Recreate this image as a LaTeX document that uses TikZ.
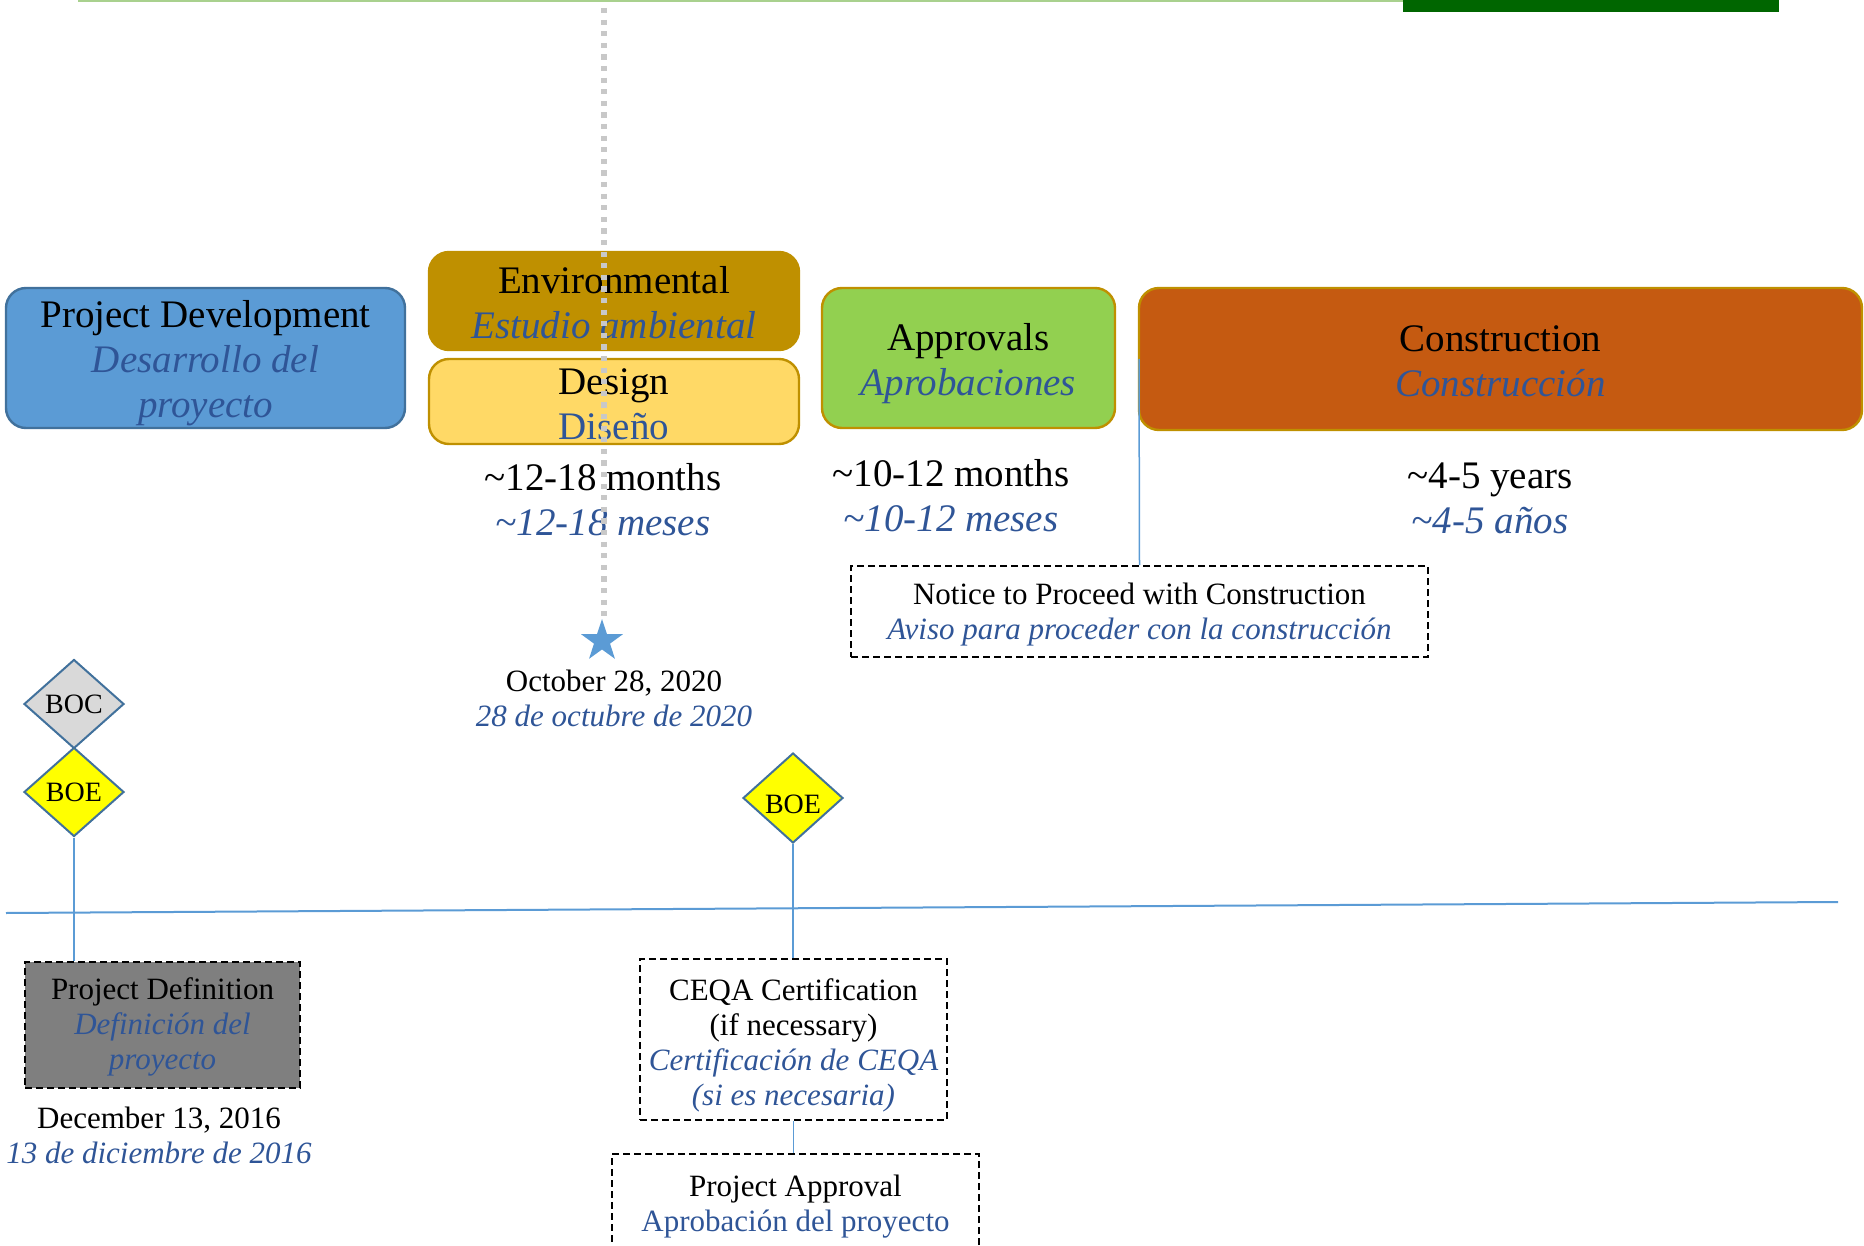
\documentclass[tikz,border=0pt]{standalone}
\usepackage{fontspec}
\setmainfont{Liberation Serif}
\usetikzlibrary{shapes.geometric}
\definecolor{pdblue}{HTML}{5B9BD5}
\definecolor{pdedge}{HTML}{41719C}
\definecolor{gold}{HTML}{BF9000}
\definecolor{designfill}{HTML}{FFD966}
\definecolor{apgreen}{HTML}{92D050}
\definecolor{constr}{HTML}{C55A11}
\definecolor{estxt}{HTML}{2F5597}
\definecolor{bocgray}{HTML}{D9D9D9}
\definecolor{pdgray}{HTML}{7F7F7F}
\definecolor{lgreen}{HTML}{A9D18E}
\definecolor{dgreen}{HTML}{006600}
\definecolor{dotgray}{HTML}{C8C8C8}
\definecolor{boeyellow}{HTML}{FFFF00}
\newcommand{\spn}[1]{{\color{estxt}\itshape #1}}
\newcommand{\tl}{\textasciitilde}
\newcommand{\dn}[1]{\rule{0pt}{#1}}
\begin{document}
\begin{tikzpicture}[x=0.5pt,y=-0.5pt,
  phase/.style={draw, rounded corners=10pt, line width=1.2pt, inner sep=0pt, align=center, font=\fontsize{19.5}{22.5}\selectfont},
  big/.style={align=center, inner sep=0pt, font=\fontsize{19.5}{22.5}\selectfont},
  small/.style={align=center, inner sep=0pt, font=\fontsize{15.5}{17.5}\selectfont},
  dbox/.style={draw=black, dash pattern=on 3.5pt off 2pt, line width=0.8pt, inner sep=0pt, align=center, font=\fontsize{15.5}{17.5}\selectfont},
  milestone/.style={diamond, draw=pdedge, line width=1pt, inner sep=0pt, minimum width=50pt, minimum height=44.5pt, font=\fontsize{14}{16}\selectfont},
  link/.style={draw=pdblue, line width=0.75pt}
]
\useasboundingbox (0,0) rectangle (1864,1246);

% top decoration
\coordinate (g1) at (78,1);
\coordinate (g2) at (1779,1);
\draw[lgreen, line width=1pt] (g1) -- (g2);
\fill[dgreen] (1403,0) rectangle (1779,12);

% phases
\node[phase, fill=pdblue, draw=pdedge, minimum width=199.5pt, minimum height=70pt] (pd) at (205.5,358)
  {\dn{18.3pt}Project Development\\ \spn{Desarrollo del}\\ \spn{proyecto}};
\node[phase, fill=gold, draw=gold, minimum width=185pt, minimum height=49pt] (env) at (614,301)
  {\dn{15.7pt}Environmental\\ \spn{Estudio ambiental}};
\node[phase, fill=designfill, draw=gold, minimum width=185pt, minimum height=42.5pt] (des) at (614,401.5)
  {\dn{15.7pt}Design\\ {\color{estxt}Diseño}};
\node[big] (m1) at (603,499.5) {\tl12-18 months\\ \spn{\tl12-18 meses}};
\node[phase, fill=apgreen, draw=gold, minimum width=146.5pt, minimum height=70pt] (app) at (968.5,358)
  {\dn{19.3pt}Approvals\\ \spn{Aprobaciones}};
\node[big] (m2) at (951,495.5) {\tl10-12 months\\ \spn{\tl10-12 meses}};
\node[phase, fill=constr, draw=gold, minimum width=361.5pt, minimum height=71pt] (con) at (1500.5,359)
  {\dn{15.7pt}Construction\\ \spn{Construcción}};
\node[big] (m3) at (1490,498.5) {\tl4-5 years\\ \spn{\tl4-5 años}};

\node[dbox, minimum width=288.5pt, minimum height=45.5pt] (ntp) at (1139.5,611.5)
  {\dn{14.2pt}Notice to Proceed with Construction\\ \spn{Aviso para proceder con la construcción}};
\coordinate (cl) at (1139,359);
\draw[link] (ntp.north) -- (cl);

% star and gray dashed marker
\node[star, star points=5, star point ratio=2.6, fill=pdblue, minimum size=22pt, inner sep=0pt] (st) at (602,641) {};
\coordinate (dt) at (604,8);
\draw[dotgray, line width=2.8pt, dash pattern=on 2.6pt off 3.2pt] (dt) -- (dt |- st.north);
\node[small] (d1) at (614,698) {October 28, 2020\\ \spn{28 de octubre de 2020}};

% milestones
\node[milestone, fill=bocgray] (boc) at (74,704) {BOC};
\node[milestone, fill=boeyellow] (boe1) at (74,792) {BOE};
\node[milestone, fill=boeyellow, minimum height=45pt] (boe2) at (793,798) {\dn{15.8pt}BOE};

% timeline
\coordinate (t1) at (6,913);
\coordinate (t2) at (1838,902);
\draw[pdblue, line width=1pt] (t1) -- (t2);

% lower boxes
\node[dbox, fill=pdgray, minimum width=137.5pt, minimum height=63pt] (pdef) at (162.5,1025)
  {\dn{13pt}Project Definition\\ \spn{Definición del}\\ \spn{proyecto}};
\node[small] (d2) at (159,1135) {December 13, 2016\\ \spn{13 de diciembre de 2016}};
\node[dbox, minimum width=153.5pt, minimum height=80.5pt] (ceqa) at (793.5,1039.5)
  {\dn{16.6pt}CEQA Certification\\ (if necessary)\\ \spn{Certificación de CEQA}\\ \spn{(si es necesaria)}};
\node[dbox, minimum width=183.5pt, minimum height=49pt] (papp) at (795.5,1203)
  {\dn{14.2pt}Project Approval\\ {\color{estxt}Aprobación del proyecto}};

% connectors
\draw[link] (boe1.south) -- (boe1.south |- pdef.north);
\draw[link] (boe2.south) -- (boe2.south |- ceqa.north);
\draw[link] (ceqa.south) -- (ceqa.south |- papp.north);
\end{tikzpicture}
\end{document}
